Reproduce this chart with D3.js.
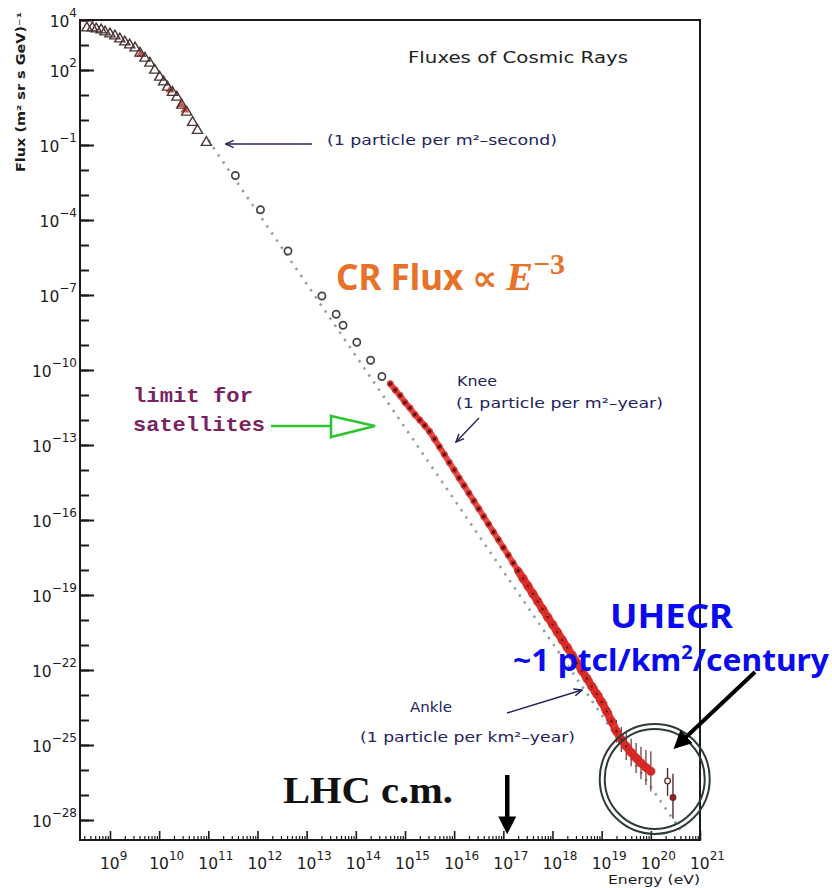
<!DOCTYPE html>
<html><head><meta charset="utf-8">
<script src="https://cdn.jsdelivr.net/npm/d3@7"></script>
<style>body{margin:0;background:#fff;} svg{display:block;}</style>
</head><body>
<svg id="chart" width="832" height="888"></svg>
<script>
// Energies and fluxes are stored as log10 values (eV, m^-2 sr^-1 s^-1 GeV^-1)

// low-energy direct measurements (open triangles)
const triLogE = [8.53,8.64,8.72,8.82,8.90,9.00,9.10,9.20,9.30,9.40,9.51,9.61,9.71,9.81,9.91,10.01,10.09,10.17,10.27,10.36,10.46,10.56,10.68,10.78,10.96];
const triLogF = [3.68,3.68,3.64,3.60,3.52,3.44,3.36,3.24,3.12,3.00,2.88,2.67,2.47,2.27,1.99,1.71,1.52,1.31,1.10,0.91,0.59,0.31,-0.10,-0.42,-0.90];
// overlapping filled points among the triangles
const redLowLogE = [9.62,10.22,10.44,10.52];
const redLowLogF = [2.62,1.20,0.62,0.40];

// balloon / satellite points (open circles)
const circLogE = [11.55,12.06,12.62,13.31,13.60,13.74,14.02,14.30,14.53];
const circLogF = [-2.22,-3.59,-5.24,-7.04,-7.77,-8.21,-8.89,-9.61,-10.26];

// air-shower measurements (red band)
const bandLogE = [14.7,14.8,14.9,15.0,15.1,15.2,15.3,15.4,15.5,15.6,15.7,15.8,15.9,16.0,16.1,16.2,16.3,16.4,16.5,16.6,16.7,16.8,16.9,17.0,17.1,17.2,17.3,17.4,17.5,17.6,17.7,17.8,17.9,18.0,18.1,18.2,18.3,18.4,18.5,18.6,18.7,18.8,18.9,19.0,19.1,19.2,19.3,19.4,19.5,19.6,19.7,19.8,19.9,20.0];
const bandLogF = [-10.55,-10.80,-11.02,-11.30,-11.52,-11.78,-12.00,-12.22,-12.46,-12.76,-13.07,-13.38,-13.70,-14.00,-14.32,-14.62,-14.93,-15.24,-15.55,-15.86,-16.17,-16.48,-16.79,-17.10,-17.41,-17.72,-18.03,-18.34,-18.64,-18.95,-19.26,-19.57,-19.88,-20.18,-20.49,-20.80,-21.10,-21.41,-21.72,-22.03,-22.34,-22.66,-22.96,-23.28,-23.65,-24.05,-24.45,-24.78,-25.05,-25.30,-25.52,-25.72,-25.90,-26.05];
// error bars (log10 half-width) on the highest-energy part of the band
const errLogE = [18.6,18.7,18.8,18.9,19.0,19.1,19.2,19.3,19.4,19.5,19.6,19.7,19.8,19.9,20.0];
const errLog  = [0.22,0.25,0.30,0.32,0.35,0.38,0.40,0.45,0.50,0.55,0.55,0.60,0.65,0.70,0.80];

// highest-energy events
const uheLogE = [20.34,20.45];
const uheLogF = [-26.44,-27.10];
const uheUp   = [0.52,0.95];
const uheDown = [0.60,0.85];
const uheOpen = [true,false];

// power-law guide (dotted)
const guideLogE = [11.0,20.6];
const guideLogF = [-0.81,-28.4];

// axis tick labels
const xTickExp = [9,10,11,12,13,14,15,16,17,18,19,20,21];
const yTickExp = [4,2,-1,-4,-7,-10,-13,-16,-19,-22,-25,-28];

const P = v => Math.pow(10, v);
const svg = d3.select("#chart");
const plotL = 80, plotR = 700, plotT = 20, plotB = 840;

const x = d3.scaleLog().domain([P(8.39), P(21)]).range([plotL, plotR]);
const y = d3.scaleLog().domain([P(4), P(-28.8)]).range([plotT, plotB]);

const ink = "#1b1b1b";
const navy = "#23235e";

// defs: arrowheads
const defs = svg.append("defs");
defs.append("marker").attr("id","navyHead").attr("viewBox","0 -5 10 10")
  .attr("refX",9).attr("refY",0).attr("markerWidth",9).attr("markerHeight",9)
  .attr("markerUnits","userSpaceOnUse").attr("orient","auto")
  .append("path").attr("d","M0,-4L9,0L0,4").attr("fill","none").attr("stroke",navy).attr("stroke-width",1.6);
defs.append("marker").attr("id","blackHead").attr("viewBox","0 -5 10 10")
  .attr("refX",2).attr("refY",0).attr("markerWidth",18).attr("markerHeight",20)
  .attr("markerUnits","userSpaceOnUse").attr("orient","auto")
  .append("path").attr("d","M0,-5L10,0L0,5Z").attr("fill","#000");

// frame
svg.append("rect").attr("x",plotL).attr("y",plotT).attr("width",plotR-plotL).attr("height",plotB-plotT)
  .attr("fill","none").attr("stroke",ink).attr("stroke-width",2);

// x axis ticks (pointing into the plot)
const xMajor = xTickExp.map(P);
const xMinor = [];
for (let e = 8; e <= 20; e++) for (let k = 2; k <= 9; k++) { const v = k * P(e); if (v >= P(8.39) && v <= P(21)) xMinor.push(v); }
svg.append("g").attr("transform",`translate(0,${plotB})`)
  .call(d3.axisBottom(x).tickValues(xMajor).tickSize(-9).tickFormat(""))
  .call(g => g.select(".domain").remove())
  .call(g => g.selectAll("line").attr("stroke",ink).attr("stroke-width",1.6));
svg.append("g").attr("transform",`translate(0,${plotB})`)
  .call(d3.axisBottom(x).tickValues(xMinor).tickSize(-4).tickFormat(""))
  .call(g => g.select(".domain").remove())
  .call(g => g.selectAll("line").attr("stroke",ink).attr("stroke-width",1.2));

// y axis ticks: every decade, longer at labelled decades
const yDecades = d3.range(4, -29, -1).map(P);
svg.append("g").attr("transform",`translate(${plotL},0)`)
  .call(d3.axisLeft(y).tickValues(yDecades).tickSize(-9).tickFormat(""))
  .call(g => g.select(".domain").remove())
  .call(g => g.selectAll("line").attr("stroke",ink).attr("stroke-width",2));
svg.append("g").attr("transform",`translate(${plotL},0)`)
  .call(d3.axisLeft(y).tickValues(yTickExp.map(P)).tickSize(-14).tickFormat(""))
  .call(g => g.select(".domain").remove())
  .call(g => g.selectAll("line").attr("stroke",ink).attr("stroke-width",2));

// tick labels with superscript exponents
const labFont = "DejaVu Sans, Liberation Sans, sans-serif";
xTickExp.forEach(e => {
  const t = svg.append("text").attr("x", x(P(e)) - 10).attr("y", 869)
    .attr("font-family",labFont).attr("font-size",15.5).attr("fill",ink);
  t.append("tspan").text("10");
  t.append("tspan").attr("dy",-9).attr("font-size",12).text(String(e));
});
yTickExp.forEach(e => {
  const t = svg.append("text").attr("x", 77).attr("y", y(P(e)) + 7).attr("text-anchor","end")
    .attr("font-family",labFont).attr("font-size",15.5).attr("fill",ink);
  t.append("tspan").text("10");
  t.append("tspan").attr("dy",-10).attr("font-size",12).text(e < 0 ? "\u2212" + (-e) : String(e));
});

// axis titles
svg.append("text").attr("transform","translate(25,92) rotate(-90)").attr("text-anchor","middle")
  .attr("font-family",labFont).attr("font-size",11.5).attr("font-weight","bold").attr("fill",ink)
  .attr("textLength",160).attr("lengthAdjust","spacingAndGlyphs")
  .text("Flux (m\u00B2 sr s GeV)\u207B\u00B9");
svg.append("text").attr("x",608).attr("y",884)
  .attr("font-family",labFont).attr("font-size",13).attr("fill",ink)
  .attr("textLength",92).attr("lengthAdjust","spacingAndGlyphs").text("Energy (eV)");

// chart title
svg.append("text").attr("x",408).attr("y",63)
  .attr("font-family",labFont).attr("font-size",15).attr("fill","#222")
  .attr("textLength",220).attr("lengthAdjust","spacingAndGlyphs").text("Fluxes of Cosmic Rays");

// dotted power-law guide
svg.append("path")
  .attr("d", d3.line().x(d => x(P(d[0]))).y(d => y(P(d[1])))(d3.zip(guideLogE, guideLogF)))
  .attr("fill","none").attr("stroke","#8aa3a3").attr("stroke-width",2.6)
  .attr("stroke-dasharray","2.4 6.2");

// red filled points among triangles
svg.append("g").selectAll("path").data(d3.zip(redLowLogE, redLowLogF)).join("path")
  .attr("transform", d => `translate(${x(P(d[0]))},${y(P(d[1]))})`)
  .attr("d", d3.symbol(d3.symbolTriangle, 34)())
  .attr("fill","#c8342e").attr("opacity",0.85);

// open triangles
svg.append("g").selectAll("path").data(d3.zip(triLogE, triLogF)).join("path")
  .attr("transform", d => `translate(${x(P(d[0]))},${y(P(d[1]))})`)
  .attr("d", d3.symbol(d3.symbolTriangle, 44)())
  .attr("fill","none").attr("stroke","#4a3434").attr("stroke-width",1.4);

// open circles
svg.append("g").selectAll("circle").data(d3.zip(circLogE, circLogF)).join("circle")
  .attr("cx", d => x(P(d[0]))).attr("cy", d => y(P(d[1]))).attr("r",3.6)
  .attr("fill","#fff").attr("stroke","#444").attr("stroke-width",1.7);

// error bars on the band tail
svg.append("g").selectAll("line").data(d3.zip(errLogE, errLog, errLogE.map(e => bandLogF[bandLogE.indexOf(e)]))).join("line")
  .attr("x1", d => x(P(d[0]))).attr("x2", d => x(P(d[0])))
  .attr("y1", d => y(P(d[2] + d[1]))).attr("y2", d => y(P(d[2] - d[1])))
  .attr("stroke","#7a4040").attr("stroke-width",1.3);

// red band: connected halo, points and dark centres
const band = d3.zip(bandLogE, bandLogF);
const bandLine = d3.line().x(d => x(P(d[0]))).y(d => y(P(d[1])));
svg.append("path").attr("d", bandLine(band.filter(d => d[0] < 17.4)))
  .attr("fill","none").attr("stroke","#e0322a").attr("stroke-width",6).attr("stroke-linecap","round").attr("opacity",0.85);
svg.append("path").attr("d", bandLine(band.filter(d => d[0] >= 17.3)))
  .attr("fill","none").attr("stroke","#dc2a22").attr("stroke-width",8).attr("stroke-linecap","round").attr("opacity",0.9);
svg.append("g").selectAll("circle").data(band).join("circle")
  .attr("cx", d => x(P(d[0]))).attr("cy", d => y(P(d[1])))
  .attr("r", d => d[0] < 17.4 ? 3.4 : 4.6)
  .attr("fill","#d42620").attr("opacity",0.8);
svg.append("g").selectAll("circle").data(band.filter(d => d[0] < 19.6)).join("circle")
  .attr("cx", d => x(P(d[0]))).attr("cy", d => y(P(d[1])))
  .attr("r", d => d[0] < 17.4 ? 1.7 : 1.1)
  .attr("fill","#3a0c0c").attr("opacity",0.9);

// highest-energy events with error bars
const uhe = d3.zip(uheLogE, uheLogF, uheUp, uheDown, uheOpen);
svg.append("g").selectAll("line").data(uhe).join("line")
  .attr("x1", d => x(P(d[0]))).attr("x2", d => x(P(d[0])))
  .attr("y1", d => y(P(d[1] + d[2]))).attr("y2", d => y(P(d[1] - d[3])))
  .attr("stroke","#553030").attr("stroke-width",1.4);
svg.append("g").selectAll("circle").data(uhe).join("circle")
  .attr("cx", d => x(P(d[0]))).attr("cy", d => y(P(d[1]))).attr("r",2.8)
  .attr("fill", d => d[4] ? "#fff" : "#8a1f1f").attr("stroke","#6a2a2a").attr("stroke-width",1.3);

// annotations (navy)
const annFont = "DejaVu Sans, Liberation Sans, sans-serif";
function ann(txt, xx, yy, len) {
  svg.append("text").attr("x",xx).attr("y",yy).attr("font-family",annFont).attr("font-size",14)
    .attr("fill",navy).attr("textLength",len).attr("lengthAdjust","spacingAndGlyphs").text(txt);
}
ann("(1 particle per m\u00B2\u2013second)", 327, 145, 230);
ann("Knee", 457, 386, 40);
ann("(1 particle per m\u00B2\u2013year)", 456, 408, 207);
ann("Ankle", 410, 712, 42);
ann("(1 particle per km\u00B2\u2013year)", 360, 742, 215);

function navyArrow(x1, y1, x2, y2) {
  svg.append("line").attr("x1",x1).attr("y1",y1).attr("x2",x2).attr("y2",y2)
    .attr("stroke",navy).attr("stroke-width",1.4).attr("marker-end","url(#navyHead)");
}
navyArrow(312, 144, x(P(11.35)), 144);
navyArrow(479, 418, 456, 442);
navyArrow(507, 713, 582, 690);

// CR flux scaling label
const cr = svg.append("text").attr("x",336).attr("y",290).attr("fill","#e8722a").attr("font-weight","bold");
cr.append("tspan").attr("font-family","Noto Sans, DejaVu Sans, sans-serif").attr("font-size",35).text("CR Flux \u221D ");
cr.append("tspan").attr("font-family","Liberation Serif, DejaVu Serif, serif").attr("font-style","italic").attr("font-size",40).text("E");
cr.append("tspan").attr("font-family","Liberation Serif, DejaVu Serif, serif").attr("dy",-16).attr("font-size",30).text("\u22123");

// satellite limit
const sat = svg.append("g").attr("font-family","Liberation Mono, DejaVu Sans Mono, monospace")
  .attr("font-weight","bold").attr("font-size",21).attr("fill","#7a2360");
sat.append("text").attr("x",133).attr("y",402).attr("textLength",120).attr("lengthAdjust","spacingAndGlyphs").text("limit for");
sat.append("text").attr("x",133).attr("y",431).attr("textLength",132).attr("lengthAdjust","spacingAndGlyphs").text("satellites");
svg.append("line").attr("x1",271).attr("y1",426).attr("x2",331).attr("y2",426)
  .attr("stroke","#2fc42f").attr("stroke-width",2.6);
svg.append("path").attr("d","M331,416L375,426L331,437Z")
  .attr("fill","#fff").attr("stroke","#2fc42f").attr("stroke-width",2.6).attr("stroke-linejoin","miter");

// LHC centre-of-mass marker
const lhcEnergy = 1.2e17;
svg.append("text").attr("x",283).attr("y",803)
  .attr("font-family","Liberation Serif, DejaVu Serif, serif").attr("font-weight","bold").attr("font-size",38)
  .attr("fill","#111").attr("textLength",170).attr("lengthAdjust","spacingAndGlyphs").text("LHC c.m.");
svg.append("line").attr("x1",x(lhcEnergy)).attr("x2",x(lhcEnergy)).attr("y1",775).attr("y2",820)
  .attr("stroke","#000").attr("stroke-width",4.5).attr("marker-end","url(#blackHead)");

// UHECR highlight ring
const ringE = 1.2e20, ringF = 4.4e-27;
[55, 50].forEach(r => svg.append("circle").attr("cx",x(ringE)).attr("cy",y(ringF)).attr("r",r)
  .attr("fill","none").attr("stroke","#2e3a3a").attr("stroke-width",2));
svg.append("line").attr("x1",755).attr("y1",672).attr("x2",684).attr("y2",739)
  .attr("stroke","#000").attr("stroke-width",4).attr("marker-end","url(#blackHead)");

const uh = svg.append("g").attr("font-family","Noto Sans, DejaVu Sans, sans-serif").attr("font-weight","bold").attr("fill","#0a0af0");
uh.append("text").attr("x",610).attr("y",628).attr("font-size",34).attr("textLength",123).attr("lengthAdjust","spacingAndGlyphs").text("UHECR");
const l2 = uh.append("text").attr("x",513).attr("y",671).attr("font-size",30)
  .attr("textLength",316).attr("lengthAdjust","spacingAndGlyphs");
l2.append("tspan").text("~1 ptcl/km");
l2.append("tspan").attr("dy",-12).attr("font-size",19).text("2");
l2.append("tspan").attr("dy",12).text("/century");
</script>
</body></html>
